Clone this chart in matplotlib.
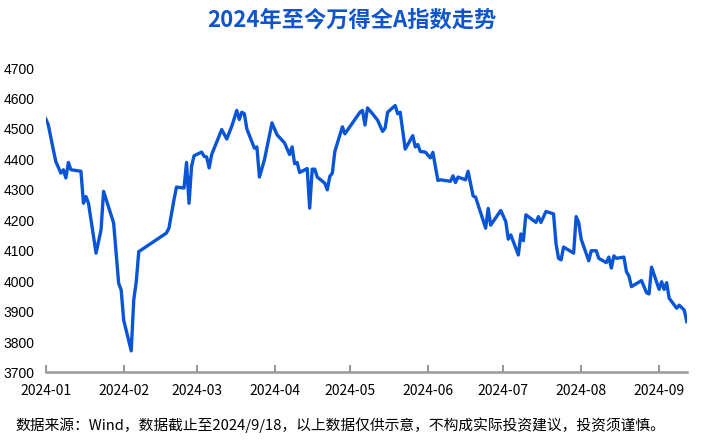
import pandas as pd
import matplotlib
matplotlib.use("Agg")
import matplotlib.pyplot as plt
import matplotlib.dates as mdates

plt.rcParams['font.family'] = ['Noto Sans CJK SC', 'DejaVu Sans']

# 万得全A收盘点位
dates = [
    "2024-01-01", "2024-01-02", "2024-01-04", "2024-01-05", "2024-01-07", "2024-01-08",
    "2024-01-09", "2024-01-10", "2024-01-11", "2024-01-15", "2024-01-16", "2024-01-17",
    "2024-01-18", "2024-01-21", "2024-01-23", "2024-01-24", "2024-01-28", "2024-01-30",
    "2024-01-31", "2024-02-01", "2024-02-04", "2024-02-05", "2024-02-06", "2024-02-07",
    "2024-02-18", "2024-02-19", "2024-02-21", "2024-02-22", "2024-02-25", "2024-02-26",
    "2024-02-27", "2024-02-28", "2024-02-29", "2024-03-03", "2024-03-04", "2024-03-05",
    "2024-03-06", "2024-03-07", "2024-03-11", "2024-03-13", "2024-03-15", "2024-03-17",
    "2024-03-18", "2024-03-19", "2024-03-20", "2024-03-21", "2024-03-24", "2024-03-25",
    "2024-03-26", "2024-03-28", "2024-03-31", "2024-04-02", "2024-04-05", "2024-04-07",
    "2024-04-08", "2024-04-09", "2024-04-10", "2024-04-11", "2024-04-14", "2024-04-15",
    "2024-04-16", "2024-04-17", "2024-04-18", "2024-04-21", "2024-04-22", "2024-04-23",
    "2024-04-24", "2024-04-25", "2024-04-28", "2024-04-29", "2024-05-05", "2024-05-06",
    "2024-05-07", "2024-05-08", "2024-05-10", "2024-05-12", "2024-05-14", "2024-05-15",
    "2024-05-16", "2024-05-19", "2024-05-20", "2024-05-21", "2024-05-23", "2024-05-26",
    "2024-05-27", "2024-05-28", "2024-05-29", "2024-05-31", "2024-06-02", "2024-06-03",
    "2024-06-05", "2024-06-06", "2024-06-10", "2024-06-11", "2024-06-12", "2024-06-13",
    "2024-06-16", "2024-06-17", "2024-06-19", "2024-06-20", "2024-06-24", "2024-06-25",
    "2024-06-26", "2024-06-30", "2024-07-02", "2024-07-03", "2024-07-04", "2024-07-07",
    "2024-07-08", "2024-07-09", "2024-07-10", "2024-07-14", "2024-07-15", "2024-07-16",
    "2024-07-18", "2024-07-21", "2024-07-22", "2024-07-23", "2024-07-24", "2024-07-25",
    "2024-07-29", "2024-07-30", "2024-07-31", "2024-08-01", "2024-08-04", "2024-08-05",
    "2024-08-07", "2024-08-08", "2024-08-11", "2024-08-12", "2024-08-13", "2024-08-14",
    "2024-08-15", "2024-08-18", "2024-08-19", "2024-08-20", "2024-08-21", "2024-08-25",
    "2024-08-27", "2024-08-28", "2024-08-29", "2024-09-01", "2024-09-02", "2024-09-03",
    "2024-09-04", "2024-09-05", "2024-09-08", "2024-09-09", "2024-09-11", "2024-09-12",
]
values = [
    4533, 4514, 4432, 4393, 4355, 4366,
    4339, 4390, 4366, 4361, 4256, 4278,
    4256, 4092, 4169, 4295, 4191, 3993,
    3971, 3872, 3771, 3938, 3998, 4097,
    4158, 4174, 4267, 4309, 4306, 4390,
    4256, 4377, 4412, 4424, 4410, 4408,
    4372, 4416, 4498, 4467, 4509, 4561,
    4531, 4555, 4550, 4500, 4437, 4441,
    4342, 4399, 4520, 4481, 4454, 4416,
    4441, 4386, 4390, 4357, 4370, 4240,
    4368, 4368, 4342, 4322, 4300, 4344,
    4355, 4426, 4507, 4484, 4555, 4561,
    4513, 4569, 4550, 4529, 4492, 4503,
    4555, 4577, 4550, 4555, 4434, 4478,
    4441, 4449, 4426, 4424, 4405, 4423,
    4331, 4333, 4328, 4346, 4324, 4342,
    4333, 4361, 4280, 4276, 4174, 4239,
    4184, 4232, 4196, 4138, 4152, 4086,
    4155, 4133, 4218, 4193, 4212, 4193,
    4229, 4221, 4122, 4075, 4070, 4112,
    4092, 4212, 4193, 4138, 4067, 4100,
    4100, 4075, 4061, 4079, 4043, 4083,
    4075, 4079, 4031, 4017, 3982, 4002,
    3962, 3958, 4046, 3973, 3998, 3973,
    3995, 3944, 3911, 3921, 3905, 3867,
]

yticks = [3700, 3800, 3900, 4000, 4100, 4200, 4300, 4400, 4500, 4600, 4700]
title = "2024年至今万得全A指数走势"
note = "数据来源：Wind，数据截止至2024/9/18，以上数据仅供示意，不构成实际投资建议，投资须谨慎。"

x = pd.to_datetime(dates)

fig = plt.figure(figsize=(7.04, 4.45), dpi=100)
ax = fig.add_axes([0.065, 0.163, 0.9105, 0.684])

ax.plot(x, values, color="#0a55d6", linewidth=2.4, solid_joinstyle="round")

ax.set_ylim(3700, 4700)
ax.set_yticks(yticks)
ax.set_xlim(pd.Timestamp("2024-01-01"), x[-1])
ax.xaxis.set_major_locator(mdates.MonthLocator())
ax.xaxis.set_major_formatter(mdates.DateFormatter("%Y-%m"))

for side in ["top", "right", "left"]:
    ax.spines[side].set_visible(False)
ax.spines["bottom"].set_color("#999999")
ax.spines["bottom"].set_linewidth(1.8)
ax.tick_params(axis="x", direction="in", length=5, width=1.5, color="#999999",
               labelsize=10, pad=8)
ax.tick_params(axis="y", length=0, pad=8)
for lab in ax.get_yticklabels():
    lab.set_fontfamily("Liberation Sans")
    lab.set_fontsize(10)

fig.text(0.5, 0.955, title, ha="center", va="center", fontsize=16,
         fontweight="bold", color="#1155cc")
fig.text(0.022, 0.045, note, ha="left", va="center", fontsize=10.65, color="black")

fig.savefig("out.png", dpi=100)
